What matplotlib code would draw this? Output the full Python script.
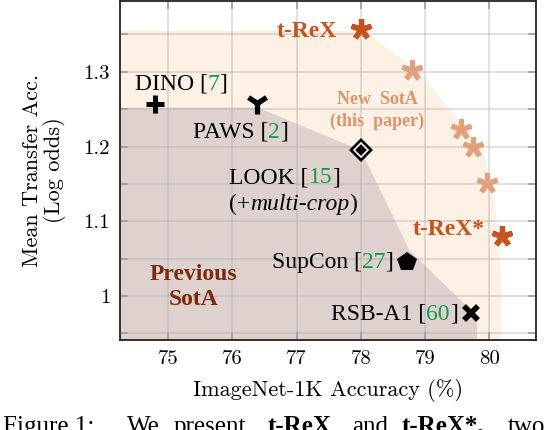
import matplotlib
matplotlib.use("Agg")
import matplotlib.pyplot as plt
from matplotlib.ticker import FixedLocator
from matplotlib.transforms import offset_copy

plt.rcParams["font.family"] = ["Liberation Serif", "DejaVu Serif"]
plt.rcParams["axes.formatter.use_mathtext"] = True

# baselines: previous methods
methods = ["DINO", "PAWS", "LOOK", "SupCon", "RSB-A1"]
method_acc = [74.8, 76.39, 78.0, 78.72, 79.72]
method_logodds = [1.257, 1.258, 1.195, 1.045, 0.977]

# t-ReX and t-ReX*
trex_acc = [78.0, 80.2]
trex_logodds = [1.358, 1.080]

# other configurations of the new method (light stars)
variant_acc = [78.79, 79.56, 79.75, 79.97]
variant_logodds = [1.303, 1.224, 1.200, 1.151]

# region outlines
prev_x = [73.9, 76.4, 78.0, 78.76, 79.78, 79.81, 79.81, 73.9]
prev_y = [1.252, 1.252, 1.195, 1.061, 0.975, 0.96, 0.90, 0.90]
new_x = [73.9, 78.05, 78.92, 79.26, 79.90, 80.08, 80.16, 80.19, 80.19, 73.9]
new_y = [1.355, 1.355, 1.299, 1.263, 1.196, 1.129, 1.061, 1.007, 0.90, 0.90]

xticks = [75, 76, 77, 78, 79, 80]
yticks = [1.0, 1.1, 1.2, 1.3]
yticklabels = ["1", "1.1", "1.2", "1.3"]
yminor = [0.95, 1.05, 1.15, 1.25, 1.35]

# caption words (only the top of this line is inside the picture)
caption_words = ["Figure 1:", "We", "present", "t-ReX", "and", "t-ReX*,", "two"]
caption_bold = [False, False, False, True, False, True, False]
caption_x = [0.005, 0.231, 0.315, 0.487, 0.64, 0.731, 0.924]

GREEN = "#0f9a55"
TREX = "#c5541c"
LIGHT = "#e4a07c"

fig = plt.figure(figsize=(5.5, 4.3), dpi=100)
ax = fig.add_axes([0.218, 0.209, 0.757, 0.789])

ax.fill(new_x, new_y, color="#fdf0e5", lw=0, zorder=0.1)
ax.fill(prev_x, prev_y, color="#dfd1cd", lw=0, zorder=0.2)

# markers
mk = {"DINO": dict(marker="+", ms=13, mew=3.6),
      "PAWS": dict(marker="1", ms=16, mew=3.8),
      "LOOK": dict(marker="D", ms=12, mew=0),
      "SupCon": dict(marker="p", ms=15, mew=0),
      "RSB-A1": dict(marker="x", ms=10, mew=4)}
for name, xa, ya in zip(methods, method_acc, method_logodds):
    ax.plot(xa, ya, color="black", ls="none", zorder=5, **mk[name])
    if name == "LOOK":
        ax.plot(xa, ya, marker="D", ms=7, mfc="none", mec="white", mew=1.2,
                ls="none", zorder=6)

ax.plot(variant_acc, variant_logodds, marker=(5, 2, 0), ms=15, mew=3.6,
        color=LIGHT, ls="none", zorder=5)
ax.plot(trex_acc, trex_logodds, marker=(5, 2, 0), ms=15, mew=3.8,
        color=TREX, ls="none", zorder=5)


def parts_text(x, y, parts, ha="left", size=17):
    # draw pieces side by side so the citation numbers can be green
    renderer = fig.canvas.get_renderer()
    widths = []
    for s, c, st in parts:
        t = ax.text(0, 0, s, fontsize=size, fontstyle=st)
        widths.append(t.get_window_extent(renderer).width)
        t.remove()
    total = sum(widths)
    off = {"left": 0, "center": -total / 2, "right": -total}[ha]
    for (s, c, st), w in zip(parts, widths):
        tr = offset_copy(ax.transData, fig=fig, x=off, y=0, units="dots")
        ax.text(x, y, s, transform=tr, fontsize=size, color=c, fontstyle=st,
                ha="left", va="baseline", zorder=7)
        off += w


parts_text(75.2, 1.276, [("DINO [", "black", "normal"), ("7", GREEN, "normal"),
                         ("]", "black", "normal")], ha="center")
parts_text(76.12, 1.212, [("PAWS [", "black", "normal"), ("2", GREEN, "normal"),
                          ("]", "black", "normal")], ha="center")
parts_text(75.95, 1.151, [("LOOK [", "black", "normal"), ("15", GREEN, "normal"),
                          ("]", "black", "normal")])
parts_text(75.95, 1.115, [("(+", "black", "normal"), ("multi-crop", "black", "italic"),
                          (")", "black", "normal")])
parts_text(78.5, 1.038, [("SupCon [", "black", "normal"), ("27", GREEN, "normal"),
                         ("]", "black", "normal")], ha="right")
parts_text(79.51, 0.968, [("RSB-A1 [", "black", "normal"), ("60", GREEN, "normal"),
                          ("]", "black", "normal")], ha="right")

ax.text(77.63, 1.347, "t-ReX", color=TREX, fontsize=17, fontweight="bold",
        ha="right", va="baseline", zorder=7)
ax.text(79.93, 1.082, "t-ReX*", color=TREX, fontsize=17, fontweight="bold",
        ha="right", va="baseline", zorder=7)
ax.text(78.26, 1.257, "New  SotA", color="#e0936b", fontsize=13, fontweight="bold",
        ha="center", va="baseline", zorder=7)
ax.text(78.26, 1.228, "(this  paper)", color="#e0936b", fontsize=13, fontweight="bold",
        ha="center", va="baseline", zorder=7)
ax.text(75.4, 1.0216, "Previous", color="#7a2a0e", fontsize=17, fontweight="bold",
        ha="center", va="baseline", zorder=7)
ax.text(75.4, 0.988, "SotA", color="#7a2a0e", fontsize=17, fontweight="bold",
        ha="center", va="baseline", zorder=7)

ax.set_xlim(74.25, 80.73)
ax.set_ylim(0.941, 1.395)
ax.xaxis.set_major_locator(FixedLocator(xticks))
ax.yaxis.set_major_locator(FixedLocator(yticks))
ax.yaxis.set_minor_locator(FixedLocator(yminor))
ax.set_yticklabels(yticklabels)
ax.set_xticklabels([str(v) for v in xticks])
for lab in ax.get_xticklabels() + ax.get_yticklabels():
    lab.set_family("cmr10")
    lab.set_fontsize(15)

ax.set_axisbelow(True)
ax.grid(True, which="major", color="#a8a8a8", alpha=0.45, lw=1.1)
ax.grid(True, which="minor", axis="y", color="#a8a8a8", alpha=0.45, lw=1.1)
ax.tick_params(which="both", direction="in", length=6, width=1.1, color="#999999",
               top=True, right=True, pad=7)
for sp in ax.spines.values():
    sp.set_linewidth(1.3)
    sp.set_color("#222222")

ax.set_xlabel("ImageNet-1K Accuracy (%)", family="cmr10", fontsize=16, labelpad=8)
ax.set_ylabel("Mean Transfer Acc.\n(Log odds)", family="cmr10", fontsize=16,
              labelpad=13, linespacing=1.05)

for word, bold, xw in zip(caption_words, caption_bold, caption_x):
    fig.text(xw, -0.006, word, fontsize=18, va="baseline",
             fontweight="bold" if bold else "normal")

fig.savefig("out.png", dpi=100)
